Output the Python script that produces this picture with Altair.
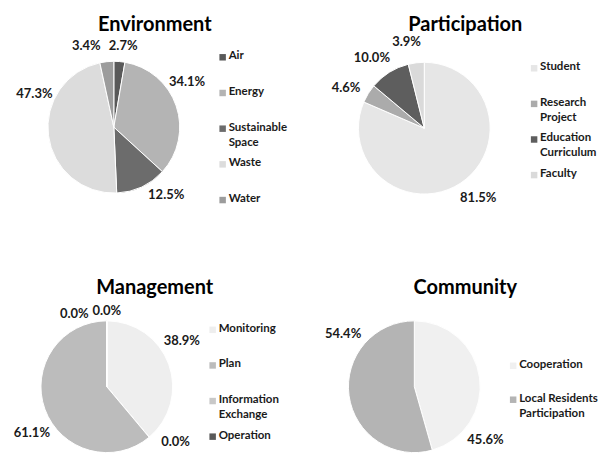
import altair as alt
import pandas as pd

# ---------------- data ----------------
env_title = "Environment"
env_cats = ["Air", "Energy", "Sustainable\nSpace", "Waste", "Water"]
env_vals = [2.7, 34.1, 12.5, 47.3, 3.4]
env_colors = ["#595959", "#b4b4b4", "#6c6c6c", "#dcdcdc", "#9c9c9c"]

part_title = "Participation"
part_cats = ["Student", "Research\nProject", "Education\nCurriculum", "Faculty"]
part_vals = [81.5, 4.6, 10.0, 3.9]
part_colors = ["#e6e6e6", "#ababab", "#5e5e5e", "#dadada"]

mgmt_title = "Management"
mgmt_cats = ["Monitoring", "", "Plan", "Information\nExchange", "Operation"]
mgmt_vals = [38.9, 0.0, 61.1, 0.0, 0.0]
mgmt_colors = ["#eeeeee", "#d0d0d0", "#bcbcbc", "#c8c8c8", "#595959"]

comm_title = "Community"
comm_cats = ["Cooperation", "Local Residents\nParticipation"]
comm_vals = [45.6, 54.4]
comm_colors = ["#f0f0f0", "#b4b4b4"]

FONT = "Lato"
W, H = 296, 222


def panel(title, cats, vals, colors, cx, cy, r, title_x, title_y,
          leg_x, leg_y0, leg_y1, label_layers):
    df = pd.DataFrame({"cat": cats, "val": vals, "idx": list(range(len(cats)))})
    df["label"] = [f"{v:.1f}%" for v in vals]
    color = alt.Color("cat:N", scale=alt.Scale(domain=cats, range=colors), legend=None)
    base = alt.Chart(df)
    theta = alt.Theta("val:Q", stack=True)
    order = alt.Order("idx:Q")

    arc = base.mark_arc(radius=r, stroke="white", strokeWidth=1).encode(
        theta=theta, color=color, order=order,
        x=alt.value(cx), y=alt.value(cy),
    )
    layers = [arc]
    for flt, rad, toff in label_layers:
        expr = f"({flt}) ? datum.label : ''" if flt else "datum.label"
        layers.append(
            base.transform_calculate(lbl=expr).mark_text(
                radius=rad, thetaOffset=toff, font=FONT, fontWeight="bold",
                fontSize=13, color="#1a1a1a").encode(
                theta=theta, order=order, text="lbl:N",
                x=alt.value(cx), y=alt.value(cy))
        )

    leg_cats = [c for c in cats if c != ""]
    ypos = alt.Y("cat:N", scale=alt.Scale(type="point", domain=leg_cats,
                                          range=[leg_y0, leg_y1], padding=0), axis=None)
    leg = base.transform_filter("datum.cat != ''")
    squares = leg.mark_square(size=42, opacity=1).encode(
        x=alt.value(leg_x), y=ypos, color=color)
    texts = leg.mark_text(align="left", baseline="top", dy=-7, lineBreak="\n",
                          lineHeight=15, font=FONT, fontWeight="bold", fontSize=11.5,
                          color="#1a1a1a").encode(
        x=alt.value(leg_x + 6), y=ypos, text="cat:N")
    layers += [squares, texts]

    ttl = alt.Chart(pd.DataFrame({"t": [title]})).mark_text(
        font=FONT, fontWeight="bold", fontSize=20, color="#000000", baseline="middle"
    ).encode(text="t:N", x=alt.value(title_x), y=alt.value(title_y))
    layers.append(ttl)

    return alt.layer(*layers).properties(width=W, height=H)


env = panel(env_title, env_cats, env_vals, env_colors, 106, 119, 66, 147, 17,
            215, 49, 192,
            [("datum.idx == 0", 82, 0.03),
             ("datum.idx == 1 || datum.idx == 2 || datum.idx == 4", 86, -0.22),
             ("datum.idx == 3", 86, 0.52)])
part = panel(part_title, part_cats, part_vals, part_colors, 121, 120, 66, 162, 17,
             231, 60, 167, [(None, 88, -0.08)])
mgmt = panel(mgmt_title, mgmt_cats, mgmt_vals, mgmt_colors, 99, 157, 66, 147, 58,
             205, 100, 207,
             [("datum.idx < 3", 88, -0.2),
              ("datum.idx == 3", 76, 0),
              ("datum.idx == 4", 80, -0.42)])
comm = panel(comm_title, comm_cats, comm_vals, comm_colors, 111, 157, 66, 162, 58,
             210, 136, 170, [(None, 89, 0.78)])

chart = alt.concat(env, part, mgmt, comm, columns=2, spacing=0, bounds="flush").resolve_scale(
    color="independent", theta="independent", y="independent"
).properties(padding=0, background="white").configure_view(stroke=None)

chart.save("out.html", embed_options={"renderer": "svg", "actions": False})
